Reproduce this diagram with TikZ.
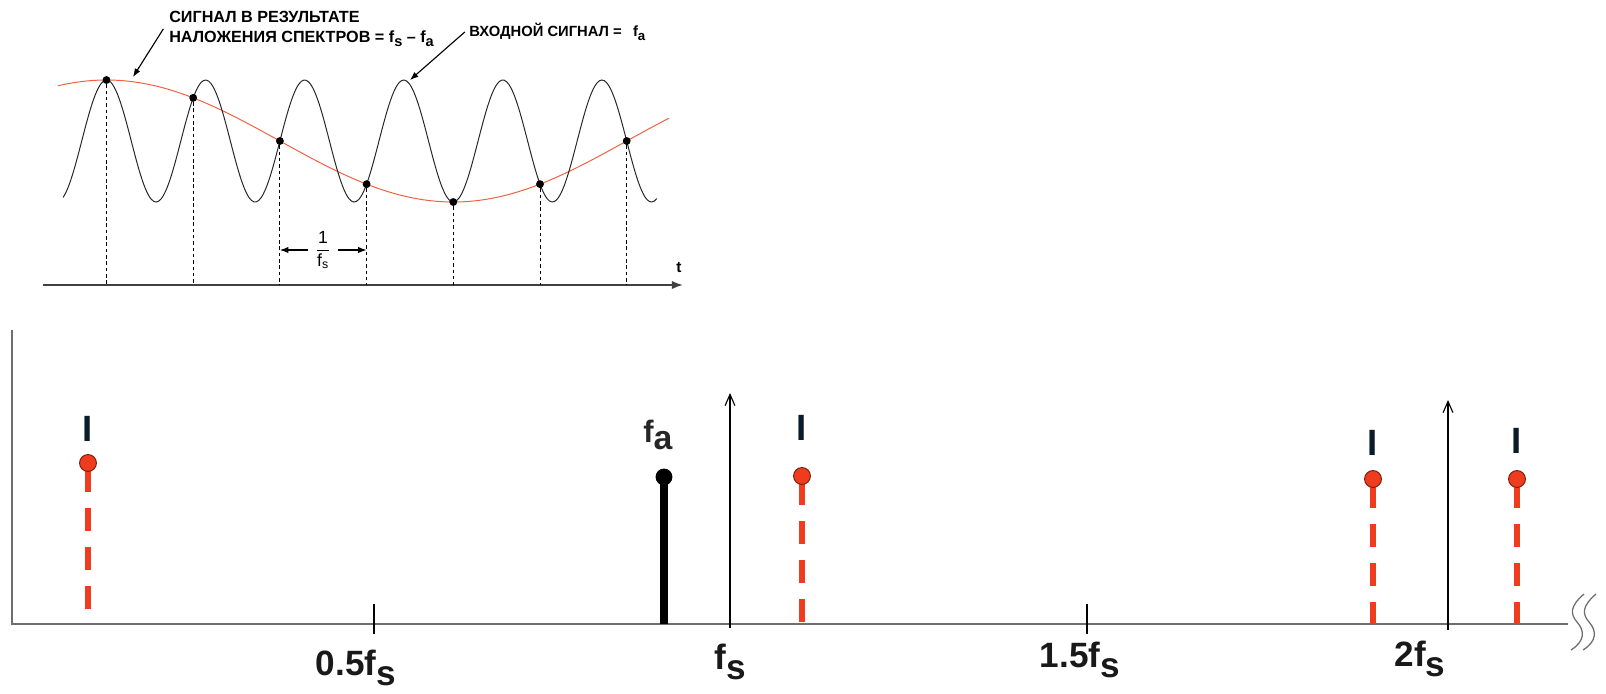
\documentclass[tikz,border=0pt]{standalone}
\usepackage{fontspec}
\setmainfont{Liberation Sans}
\usepackage{amsmath}
\usetikzlibrary{arrows.meta, calc, positioning}
\definecolor{rot}{HTML}{F03C1E}
\definecolor{rotlinie}{HTML}{F0603E}
\definecolor{rand}{HTML}{7A1E0E}
\definecolor{grau}{HTML}{6E6E6E}
\definecolor{tinte}{HTML}{0A1C2A}

\newcommand{\tief}[1]{\raisebox{-0.3em}{#1}}
\newcommand{\klein}[1]{\raisebox{-0.25em}{\scalebox{0.9}{#1}}}

\begin{document}
\begin{tikzpicture}[x=0.025cm, y=-0.025cm,
    sig/.style={line width=0.7pt, black!85},
    alias/.style={line width=0.7pt, rotlinie},
    smp/.style={circle, fill=black, inner sep=0pt, minimum size=5.6pt},
    raster/.style={line width=0.6pt, dash pattern=on 2.5pt off 2pt},
    zeiger/.style={line width=0.8pt, -{Latex[length=6pt,width=4.5pt]}},
    lbl/.style={font=\fontsize{#1}{14}\selectfont\bfseries, inner sep=0pt, align=left},
    achse/.style={line width=2pt, grau},
    pfeil/.style={line width=0.8pt, -{Straight Barb[length=8pt,width=7pt]}},
    spek/.style={font=\fontsize{25}{25}\selectfont\bfseries, inner sep=0pt, text=black!90},
    bild/.style={line width=4.3pt, rot, dash pattern=on 20.6pt off 11.4pt on 16.4pt off 11.4pt on 16.4pt off 11.4pt on 16.4pt off 11.4pt},
    punkt/.style={circle, fill=#1, inner sep=0pt, minimum size=12pt},
    strich/.style={font=\fontsize{26}{26}\selectfont\bfseries, text=tinte, inner sep=0pt}]
  \useasboundingbox (0,0) rectangle (1606,693);

  % Zeitachse
  \coordinate (t0) at (43,285);
  \coordinate (t1) at (683,285);
  \draw[line width=1.2pt, black!75, -{Latex[length=8pt,width=6pt]}] (t0) -- (t1);
  \node[font=\fontsize{11}{11}\selectfont\bfseries, anchor=base, inner sep=0pt] (tlbl) at (679,272) {t};

  % Kurven
  \draw[alias] plot[domain=-0.56:6.49, samples=150, smooth] ({106.5+86.7*\x},{141-61*cos(45*\x)});
  \draw[sig] plot[domain=-0.5:6.35, samples=250, smooth] ({106.5+86.7*\x},{141-61*cos(315*\x)});

  % Abtastwerte
  \foreach \n in {0,...,6} {
    \node[smp] (s\n) at ({106.5+86.7*\n},{141-61*cos(45*\n)}) {};
    \draw[raster] (s\n) -- (s\n |- t0);
  }

  % Periode
  \node[font=\fontsize{12.5}{14}\selectfont, inner sep=5pt] (per) at (323,250)
    {$\dfrac{\text{1}}{\text{f}_\text{s}}$};
  \draw[zeiger] (per.west) -- (per.west -| s2);
  \draw[zeiger] (per.east) -- (per.east -| s3);

  % Beschriftungen oben
  \node[lbl=11.5, anchor=north west] (alias-lbl) at (169,11)
    {СИГНАЛ В РЕЗУЛЬТАТЕ\\НАЛОЖЕНИЯ СПЕКТРОВ = f\klein{s} – f\klein{a}};
  \node[lbl=10.5, anchor=west] (ein-lbl) at (469,32) {ВХОДНОЙ СИГНАЛ =\hspace{8pt}f\klein{a}};
  \coordinate (zA) at (133,77);
  \coordinate (zB) at (410,80);
  \draw[zeiger] ([xshift=-4pt]alias-lbl.west) -- (zA);
  \draw[zeiger] ([xshift=-3pt]ein-lbl.west) -- (zB);

  % Spektrum: Achsen
  \coordinate (o) at (12,624);
  \coordinate (xe) at (1568,624);
  \coordinate (yt) at (12,330);
  \draw[achse] (yt) -- (o) -- (xe);
  \foreach \dx in {0,12}
    \draw[grau, line width=0.9pt, xshift=\dx*0.7113pt]
      (1584,594) .. controls (1570,606) and (1570,614) .. (1577,622)
      .. controls (1585,631) and (1585,641) .. (1571,650);

  % Markierungen
  \draw[line width=0.9pt] (374,604) -- (374,634);
  \draw[line width=0.9pt] (1087,604) -- (1087,634);
  \coordinate (fs0) at (730,628);
  \coordinate (fs1) at (730,393);
  \coordinate (zfs0) at (1448,630);
  \coordinate (zfs1) at (1448,400);
  \draw[pfeil] (fs0) -- (fs1);
  \draw[pfeil] (zfs0) -- (zfs1);

  % Eingangssignal
  \coordinate (fa) at (664,477);
  \draw[line width=5pt] (fa) -- (fa |- o);
  \node[punkt=black] (fa-dot) at (fa) {};
  \node[font=\fontsize{22}{22}\selectfont\bfseries, anchor=base west, inner sep=0pt, text=black!85] (fa-lbl)
    at (643,442) {f\raisebox{-5pt}{\fontsize{24}{24}\selectfont a}};

  % Spiegelfrequenzen
  \foreach \nm/\x/\y/\yb in {b1/88/463/441, b2/802/476/440, b3/1373/479/455, b4/1517/479/453} {
    \coordinate (\nm) at (\x,\y);
    \draw[bild] (\nm) -- (\nm |- o);
    \node[punkt=rot, draw=rand, line width=0.7pt] (\nm-dot) at (\nm) {};
    \node[strich, anchor=base] (\nm-lbl) at (\x,\yb) {I};
  }

  % Achsenbeschriftung
  \node[spek, anchor=base] (l05) at (356,675) {0.5f\tief{s}};
  \node[spek, anchor=base] (l1) at (730,669) {f\tief{s}};
  \node[spek, anchor=base] (l15) at (1080,667) {1.5f\tief{s}};
  \node[spek, anchor=base] (l2) at (1420,666) {2f\tief{s}};
\end{tikzpicture}
\end{document}
